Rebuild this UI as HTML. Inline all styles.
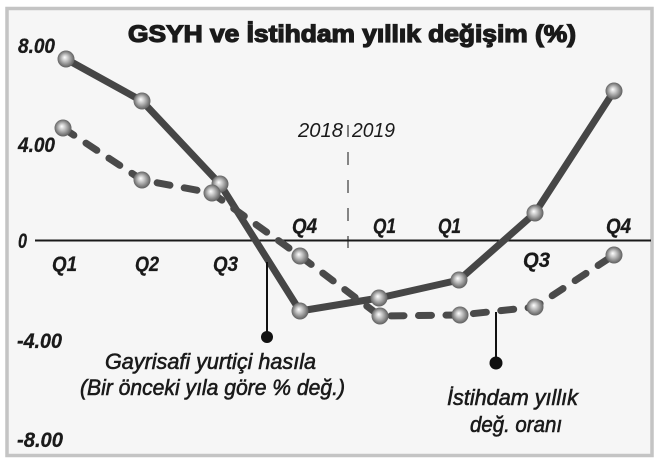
<!DOCTYPE html>
<html><head><meta charset="utf-8"><style>
html,body{margin:0;padding:0;background:#fff;}
svg{display:block;}
text{font-family:"Liberation Sans",sans-serif;fill:#1a1a1a;}
</style></head><body>
<svg width="658" height="464" viewBox="0 0 658 464" xmlns="http://www.w3.org/2000/svg">
<defs>
<radialGradient id="ball" cx="50%" cy="50%" r="55%" fx="42%" fy="40%">
<stop offset="0" stop-color="#ffffff"/>
<stop offset="0.35" stop-color="#c4c4c4"/>
<stop offset="0.8" stop-color="#737373"/>
<stop offset="1" stop-color="#555555"/>
</radialGradient>
</defs>
<rect x="0" y="0" width="658" height="464" fill="#ffffff"/>
<rect x="7" y="8.5" width="645" height="447" fill="#f6f6f6" stroke="#c4c4c4" stroke-width="3.5"/>

<text x="128" y="42" font-size="24" font-weight="bold" textLength="448" lengthAdjust="spacingAndGlyphs" stroke="#1a1a1a" stroke-width="1.3">GSYH ve İstihdam yıllık değişim (%)</text>

<g font-weight="bold" font-style="italic" font-size="21" stroke="#1a1a1a" stroke-width="0.3">
<text x="18" y="53" textLength="37" lengthAdjust="spacingAndGlyphs">8.00</text>
<text x="18" y="152" textLength="37" lengthAdjust="spacingAndGlyphs">4.00</text>
<text x="18" y="248" textLength="9" lengthAdjust="spacingAndGlyphs">0</text>
<text x="17" y="348" textLength="45" lengthAdjust="spacingAndGlyphs">-4.00</text>
<text x="17" y="447" textLength="46" lengthAdjust="spacingAndGlyphs">-8.00</text>

<text x="52" y="271" textLength="25" lengthAdjust="spacingAndGlyphs">Q1</text>
<text x="135" y="271" textLength="24" lengthAdjust="spacingAndGlyphs">Q2</text>
<text x="213" y="271" textLength="25" lengthAdjust="spacingAndGlyphs">Q3</text>
<text x="292" y="233" textLength="25" lengthAdjust="spacingAndGlyphs">Q4</text>
<text x="373" y="233" textLength="23" lengthAdjust="spacingAndGlyphs">Q1</text>
<text x="438" y="233" textLength="23" lengthAdjust="spacingAndGlyphs">Q1</text>
<text x="523" y="267" textLength="27" lengthAdjust="spacingAndGlyphs">Q3</text>
<text x="606" y="233" textLength="25" lengthAdjust="spacingAndGlyphs">Q4</text>
</g>

<g font-style="italic" font-size="20" fill="#222">
<text x="298" y="137" textLength="45" lengthAdjust="spacingAndGlyphs">2018</text>
<text x="352" y="137" textLength="43" lengthAdjust="spacingAndGlyphs">2019</text>
</g>
<line x1="348" y1="125" x2="348" y2="137" stroke="#333" stroke-width="1.2"/>
<line x1="348" y1="152" x2="348" y2="248" stroke="#555" stroke-width="1.4" stroke-dasharray="13 15"/>

<line x1="35" y1="240.5" x2="651" y2="240.5" stroke="#1a1a1a" stroke-width="2"/>

<polyline points="66,59 142,101 220,184 300,311 379,298 459,280 535,213 614,91" fill="none" stroke="#464646" stroke-width="7" stroke-linejoin="round"/>
<polyline points="63,128 142,180 212,193 300,256 380,316 460,315 535,307 614,255" fill="none" stroke="#4a4a4a" stroke-width="7" stroke-linecap="round" stroke-linejoin="round" stroke-dasharray="13 14.5"/>

<g fill="url(#ball)">
<circle cx="66" cy="59" r="8.5"/>
<circle cx="142" cy="101" r="8.5"/>
<circle cx="220" cy="184" r="8.5"/>
<circle cx="300" cy="311" r="8.5"/>
<circle cx="379" cy="298" r="8.5"/>
<circle cx="459" cy="280" r="8.5"/>
<circle cx="535" cy="213" r="8.5"/>
<circle cx="614" cy="91" r="8.5"/>
<circle cx="63" cy="128" r="8.5"/>
<circle cx="142" cy="180" r="8.5"/>
<circle cx="212" cy="193" r="8.5"/>
<circle cx="300" cy="256" r="8.5"/>
<circle cx="380" cy="316" r="8.5"/>
<circle cx="460" cy="315" r="8.5"/>
<circle cx="535" cy="307" r="8.5"/>
<circle cx="614" cy="255" r="8.5"/>
</g>

<line x1="267" y1="262" x2="267" y2="337" stroke="#111" stroke-width="2"/>
<circle cx="267" cy="337" r="6" fill="#111"/>
<line x1="496" y1="312" x2="496" y2="363" stroke="#111" stroke-width="2"/>
<circle cx="496" cy="363" r="6.5" fill="#111"/>

<g font-style="italic" font-size="22" fill="#1a1a1a" stroke="#1a1a1a" stroke-width="0.6">
<text x="105" y="369" textLength="211" lengthAdjust="spacingAndGlyphs">Gayrisafi yurtiçi hasıla</text>
<text x="80" y="395" textLength="265" lengthAdjust="spacingAndGlyphs">(Bir önceki yıla göre % değ.)</text>
<text x="447" y="405" textLength="131" lengthAdjust="spacingAndGlyphs">İstihdam yıllık</text>
<text x="470" y="432" textLength="92" lengthAdjust="spacingAndGlyphs">değ. oranı</text>
</g>
</svg>
</body></html>
